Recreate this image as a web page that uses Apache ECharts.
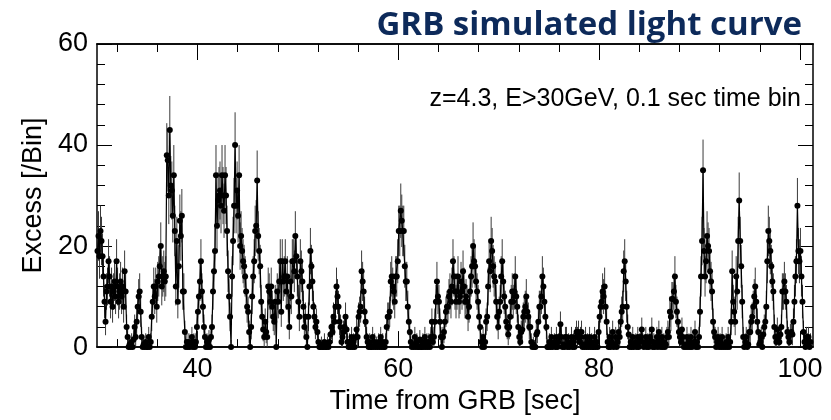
<!DOCTYPE html>
<html>
<head>
<meta charset="utf-8">
<title>GRB simulated light curve</title>
<script src="https://cdn.jsdelivr.net/npm/echarts@6/dist/echarts.min.js"></script>
<style>
    html, body { margin: 0; padding: 0; background: #fff; }
    #chart { width: 831px; height: 420px; }
</style>
</head>
<body>
<div id="chart"></div>
<script>
// 0.1 sec bins starting at 30 sec, one row per second
var binStart = 30;
var binWidth = 0.1;

var excess30 = [
    19, 22, 18, 23, 21, 18, 14, 9, 5, 11,
    12, 17, 14, 9, 12, 8, 11, 13, 10, 17,
    12, 9, 11, 13, 10, 12, 8, 15, 11, 4,
    2, 0, 0.5, 0, 1, 0, 1.5, 4, 2, 5,
    8, 10, 11, 7, 2, 0, 0.5, 0, 1, 0,
    0, 2, 0, 1, 6, 9, 12, 10, 12, 8,
    13, 14, 16, 20, 12, 14, 15, 13, 14, 38,
    37, 30, 43, 32, 31, 26, 34, 23, 12, 21,
    9, 16, 25, 22, 26, 11, 11, 3, 0, 1,
    0, 1, 0, 0.5, 2, 0, 1, 0, 1, 4
];
var excess40 = [
    7, 10, 13, 17, 11, 8, 4, 2, 0, 1,
    0, 1.5, 0, 2, 4, 11, 15, 19, 34, 24,
    29, 30, 31, 28, 34, 30, 27, 34, 30, 23,
    15, 10, 6, 0, 14, 21, 28, 40, 28, 31,
    26, 34, 20, 22, 19, 17, 16, 14, 11, 8,
    7, 3, 0, 4, 10, 14, 17, 23, 24, 33,
    22, 19, 16, 9, 6, 3.5, 2, 5, 3, 2,
    12, 11, 9, 12, 8, 6, 5, 9, 0, 11,
    9, 13, 17, 7, 17, 13, 14, 17, 11, 14,
    8, 4, 13, 10, 17, 17, 15, 22, 18, 14
];
var excess50 = [
    9, 6, 17, 15, 13, 8, 4, 6, 2, 0,
    6, 12, 19, 16, 13, 8, 6, 4, 5, 3,
    1, 0, 0, 0.5, 0, 0, 1, 0, 0, 0.5,
    0, 1, 2.5, 4, 3, 6, 5, 8, 12, 10,
    8, 5, 4, 1, 2, 3, 4, 6, 3.5, 1,
    0, 1, 0, 2, 0, 1, 0, 2, 3.5, 2,
    6, 7, 8, 15, 13, 11, 7, 5, 2, 1,
    0, 1, 0, 0, 2, 0, 1, 0, 0.5, 0,
    1, 0, 2, 0, 1, 0, 0, 1, 4, 6,
    6, 7, 13, 14, 12, 11, 9, 14, 14, 17
];
var excess60 = [
    23, 23, 27, 25, 23, 23, 16, 13, 13, 8,
    5, 3, 1, 0, 0.5, 0, 2, 0, 1, 0,
    0, 1.5, 0, 0, 1, 0, 2, 0, 1, 0,
    1, 0, 2, 5, 1, 2, 5, 9, 13, 10,
    9, 5, 2, 0, 2, 3, 5, 7, 8, 8,
    10, 11, 9, 12, 17, 14, 11, 9, 11, 14,
    9, 10, 13, 11, 15, 12, 9, 10, 9, 6,
    8, 11, 14, 16, 20, 17, 16, 13, 11, 9,
    6, 4, 1, 0, 2, 0, 1, 5, 6, 12,
    17, 15, 21, 19, 16, 14, 13, 9, 6, 4
];
var excess70 = [
    7, 9, 14, 17, 13, 10, 8, 5, 4, 2.5,
    4, 6, 9, 11, 9, 11, 14, 10, 8, 4,
    2, 1, 3, 3.5, 6, 7, 8, 10, 7, 6,
    4, 4, 1, 0, 0.5, 0, 0, 2.5, 3, 5,
    8, 8, 10, 14, 12, 9, 6, 4, 0, 0,
    1, 0, 2, 0, 0.5, 1, 0, 2, 0, 1,
    2, 4.5, 2, 0, 0.5, 0, 2, 2, 0, 1,
    0, 0.5, 2, 0, 1, 0, 2, 3, 2, 3,
    1, 2, 3, 0, 0.5, 0, 2, 0, 1, 0,
    2, 0, 1, 0, 0, 2, 0, 1, 0, 3
];
var excess80 = [
    6, 8, 9, 11, 10, 12, 8, 5, 1, 0,
    2, 0, 1, 3, 0, 0.5, 2, 0, 1, 3,
    2, 5, 7, 8, 15, 17, 13, 8, 4, 2.5,
    0, 1, 0, 2, 0, 0.5, 1, 0, 2, 0,
    1, 2, 3.5, 1, 0, 0.5, 2, 0, 1, 0,
    2, 1, 3.5, 0, 1, 0, 0.5, 2, 0, 3,
    1, 0, 2, 0, 1, 0, 0.5, 2, 3, 2,
    7, 6, 9.5, 9.5, 11, 14, 9, 7, 5, 3,
    2, 1, 3.5, 2, 0, 0.5, 0, 2, 0, 1,
    0, 2, 0, 0.5, 1, 3, 0, 1, 0, 2
];
var excess90 = [
    7, 14, 21, 35, 19, 14, 17, 22, 20, 19,
    15, 13, 11, 5, 3, 2, 0, 1, 2, 0,
    1, 0, 2, 0, 0.5, 0, 1, 0, 2, 0,
    1, 5, 15, 9, 7, 5, 14, 11, 21, 29,
    21, 16, 9, 2, 0, 1, 2, 0, 0.5, 3,
    3, 5, 6, 8, 10, 12, 9, 5, 3, 0.5,
    1, 2, 0, 2.5, 4, 5, 8, 17, 23, 21,
    19, 16, 13, 11, 4, 2, 1, 3.5, 2, 1,
    2.5, 4, 11, 11, 13, 11, 9, 3, 2, 1,
    2.5, 3, 2.5, 5, 9, 14, 17, 28, 19, 17
];
var excess100 = [19, 14, 9, 3, 1, 0, 2, 1, 2, 0, 1];

var majorTicksX = [40, 60, 80, 100];
var minorTicksX = [32, 36, 44, 48, 52, 56, 64, 68, 72, 76, 84, 88, 92, 96];

var excess = [].concat(excess30, excess40, excess50, excess60, excess70, excess80, excess90, excess100);

var points = [];
var errBars = [];
for (var i = 0; i < excess.length; i++) {
    var t = binStart + binWidth * (i + 0.5);
    points.push([t, excess[i]]);
    // poisson error on on+off counts
    errBars.push([t, excess[i], Math.sqrt(excess[i] + 2)]);
}

var axisColor = '#000';
var labelFont = 'Liberation Sans, Arial, sans-serif';

function xAxisOf(pos, ticks, len, withLabels) {
    return {
        type: 'value',
        position: pos,
        min: 30,
        max: 101.3,
        axisLine: { show: true, onZero: false, lineStyle: { color: axisColor, width: 1.5 } },
        axisTick: { show: true, inside: true, length: len, customValues: ticks, lineStyle: { color: axisColor, width: 1 } },
        axisLabel: withLabels ? {
            show: true, customValues: ticks, margin: 9, fontSize: 27, color: '#000', fontFamily: labelFont
        } : { show: false },
        splitLine: { show: false }
    };
}

function yAxisOf(pos, withLabels) {
    return {
        type: 'value',
        position: pos,
        min: 0,
        max: 60,
        interval: 20,
        axisLine: { show: true, lineStyle: { color: axisColor, width: 1.5 } },
        axisTick: { show: true, inside: true, length: 15, lineStyle: { color: axisColor, width: 1 } },
        minorTick: { show: true, splitNumber: 5, length: 8, lineStyle: { color: axisColor, width: 1 } },
        axisLabel: withLabels ? {
            show: true, margin: 9, fontSize: 27, color: '#000', fontFamily: labelFont
        } : { show: false },
        splitLine: { show: false }
    };
}

var xBottom = xAxisOf('bottom', majorTicksX, 16, true);
xBottom.name = 'Time from GRB [sec]';
xBottom.nameLocation = 'middle';
xBottom.nameGap = 37;
xBottom.nameTextStyle = { fontSize: 27, color: '#000', fontFamily: labelFont };

var yLeft = yAxisOf('left', true);
yLeft.name = 'Excess [/Bin]';
yLeft.nameLocation = 'middle';
yLeft.nameGap = 44;
yLeft.nameTextStyle = { fontSize: 27, color: '#000', fontFamily: labelFont };

var option = {
    animation: false,
    backgroundColor: '#fff',
    title: [{
        text: 'GRB simulated light curve',
        right: 24,
        top: 4,
        textStyle: { fontFamily: 'Open Sans', fontWeight: 'bold', fontSize: 33, color: '#0d2a5a' }
    }, {
        text: 'z=4.3, E>30GeV, 0.1 sec time bin',
        right: 25,
        top: 82,
        textStyle: { fontFamily: labelFont, fontWeight: 'normal', fontSize: 25, color: '#000' }
    }],
    grid: { left: 97, right: 18, top: 44, bottom: 72 },
    xAxis: [
        xBottom,
        xAxisOf('bottom', minorTicksX, 8, false),
        xAxisOf('top', majorTicksX, 16, false),
        xAxisOf('top', minorTicksX, 8, false)
    ],
    yAxis: [yLeft, yAxisOf('right', false)],
    series: [{
        name: 'errors',
        type: 'custom',
        xAxisIndex: 0,
        yAxisIndex: 0,
        clip: true,
        renderItem: function (params, api) {
            var x = api.value(0);
            var y = api.value(1);
            var e = api.value(2);
            var lo = api.coord([x, Math.max(y - e, 0)]);
            var hi = api.coord([x, y + e]);
            return {
                type: 'line',
                shape: { x1: lo[0], y1: lo[1], x2: hi[0], y2: hi[1] },
                style: { stroke: '#3a3a3a', lineWidth: 1 }
            };
        },
        data: errBars
    }, {
        name: 'excess',
        type: 'line',
        xAxisIndex: 0,
        yAxisIndex: 0,
        data: points,
        symbol: 'circle',
        symbolSize: 6,
        showSymbol: true,
        lineStyle: { color: '#000', width: 1.2 },
        itemStyle: { color: '#000' },
        clip: true
    }]
};

var chart = echarts.init(document.getElementById('chart'));
chart.setOption(option);
</script>
</body>
</html>
